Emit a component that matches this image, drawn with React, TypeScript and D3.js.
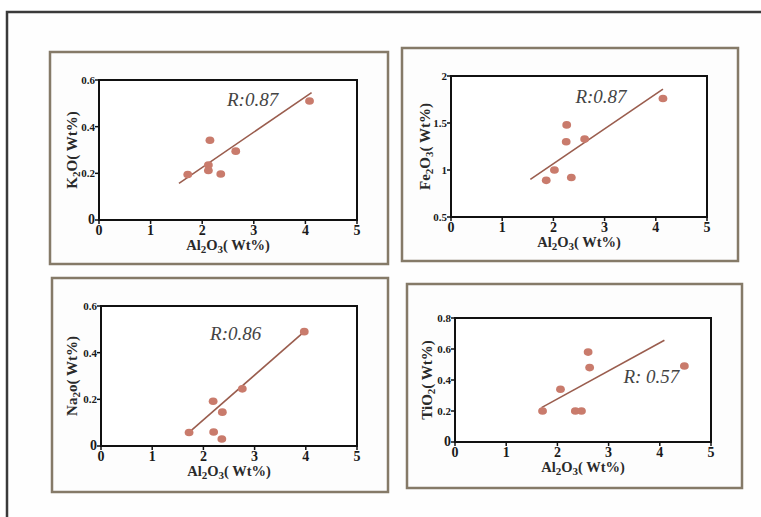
import React from "react";
import * as d3 from "d3";

// ---- data ----
const k2oX = [1.72, 2.12, 2.12, 2.15, 2.36, 2.65, 4.08];
const k2oY = [0.195, 0.236, 0.212, 0.342, 0.197, 0.295, 0.51];
const k2oFit = [[1.55, 0.157], [4.12, 0.546]];

const fe2o3X = [1.86, 2.02, 2.35, 2.25, 2.26, 2.61, 4.14];
const fe2o3Y = [0.89, 1.0, 0.92, 1.3, 1.48, 1.33, 1.76];
const fe2o3Fit = [[1.55, 0.9], [4.14, 1.86]];

const na2oX = [1.72, 2.2, 2.36, 2.37, 2.19, 2.76, 3.97];
const na2oY = [0.058, 0.06, 0.03, 0.145, 0.192, 0.245, 0.49];
const na2oFit = [[1.72, 0.058], [3.97, 0.49]];

const tio2X = [1.71, 2.06, 2.35, 2.47, 2.6, 2.63, 4.48];
const tio2Y = [0.2, 0.34, 0.2, 0.2, 0.58, 0.48, 0.49];
const tio2Fit = [[1.69, 0.222], [4.09, 0.656]];

const xTicks = [0, 1, 2, 3, 4, 5];
const yTicksA = [0, 0.2, 0.4, 0.6];
const yTicksB = [0.5, 1, 1.5, 2];
const yTicksC = [0, 0.2, 0.4, 0.6, 0.8];

const rLabels = ["R:0.87", "R:0.87", "R:0.86", "R: 0.57"];

type PanelCfg = {
  box: [number, number, number, number];
  plot: [number, number, number, number]; // x0, x1, yTop, yBottom
  yDomain: [number, number];
  yTicks: number[];
  xs: number[];
  ys: number[];
  fit: number[][];
  yLabel: React.ReactNode;
  r: string;
  rPos: [number, number];
  yLabelX: number;
};

const panels: PanelCfg[] = [
  {
    box: [50, 52, 388, 264],
    plot: [99, 357, 80, 220],
    yDomain: [0, 0.6],
    yTicks: yTicksA,
    xs: k2oX,
    ys: k2oY,
    fit: k2oFit,
    yLabel: (
      <>
        K<tspan dy={3} fontSize={11}>2</tspan>
        <tspan dy={-3}>O( Wt%)</tspan>
      </>
    ),
    r: rLabels[0],
    rPos: [2.48, 0.49],
    yLabelX: 77,
  },
  {
    box: [402, 48, 738, 261],
    plot: [451, 707, 76, 217],
    yDomain: [0.5, 2],
    yTicks: yTicksB,
    xs: fe2o3X,
    ys: fe2o3Y,
    fit: fe2o3Fit,
    yLabel: (
      <>
        Fe<tspan dy={3} fontSize={11}>2</tspan>
        <tspan dy={-3}>O</tspan>
        <tspan dy={3} fontSize={11}>3</tspan>
        <tspan dy={-3}>( Wt%)</tspan>
      </>
    ),
    r: rLabels[1],
    rPos: [2.43, 1.71],
    yLabelX: 430,
  },
  {
    box: [52, 278, 388, 492],
    plot: [101, 357, 306, 446],
    yDomain: [0, 0.6],
    yTicks: yTicksA,
    xs: na2oX,
    ys: na2oY,
    fit: na2oFit,
    yLabel: (
      <>
        Na<tspan dy={3} fontSize={11}>2</tspan>
        <tspan dy={-3}>o( Wt%)</tspan>
      </>
    ),
    r: rLabels[2],
    rPos: [2.13, 0.454],
    yLabelX: 77,
  },
  {
    box: [407, 284, 742, 488],
    plot: [455, 711, 318, 442],
    yDomain: [0, 0.8],
    yTicks: yTicksC,
    xs: tio2X,
    ys: tio2Y,
    fit: tio2Fit,
    yLabel: (
      <>
        TiO<tspan dy={3} fontSize={11}>2</tspan>
        <tspan dy={-3}>( Wt%)</tspan>
      </>
    ),
    r: rLabels[3],
    rPos: [3.29, 0.379],
    yLabelX: 432,
  },
];

const SERIF = "'Liberation Serif', 'Times New Roman', serif";

function Panel({ p }: { p: PanelCfg }) {
  const [x0, x1, yT, yB] = p.plot;
  const x = d3.scaleLinear().domain([0, 5]).range([x0, x1]);
  const y = d3.scaleLinear().domain(p.yDomain).range([yB, yT]);
  const line = d3
    .line<number[]>()
    .x((d) => x(d[0]))
    .y((d) => y(d[1]));
  const [bx0, by0, bx1, by1] = p.box;
  const fmt = (v: number) => (v === 0 ? "0" : String(v));
  return (
    <g>
      <rect
        x={bx0}
        y={by0}
        width={bx1 - bx0}
        height={by1 - by0}
        fill="#fdfdfd"
        stroke="#857a68"
        strokeWidth={2.5}
      />
      <rect x={x0} y={yT} width={x1 - x0} height={yB - yT} fill="#fff" stroke="#111" strokeWidth={2} />
      {/* fit line */}
      <path d={line(p.fit) || ""} fill="none" stroke="#9a5d4e" strokeWidth={1.6} />
      {/* points */}
      {p.xs.map((v, i) => (
        <ellipse key={i} cx={x(v)} cy={y(p.ys[i])} rx={4.4} ry={3.8} fill="#c97b6c" />
      ))}
      {/* x ticks */}
      {xTicks.map((t) => (
        <g key={"x" + t}>
          <line x1={x(t)} x2={x(t)} y1={yB} y2={yB + 4} stroke="#111" strokeWidth={1.5} />
          <text
            x={x(t)}
            y={yB + 15}
            textAnchor="middle"
            fontFamily={SERIF}
            fontWeight="bold"
            fontSize={14}
            fill="#1a1a1a"
          >
            {t}
          </text>
        </g>
      ))}
      {/* y ticks */}
      {p.yTicks.map((t) => (
        <g key={"y" + t}>
          <line x1={x0 - 4} x2={x0} y1={y(t)} y2={y(t)} stroke="#111" strokeWidth={1.5} />
          <text
            x={x0 - 4}
            y={y(t) + 4}
            textAnchor="end"
            fontFamily={SERIF}
            fontWeight="bold"
            fontSize={t === 0 ? 14 : 11}
            fill="#1a1a1a"
          >
            {fmt(t)}
          </text>
        </g>
      ))}
      {/* x label */}
      <text
        x={(x0 + x1) / 2}
        y={yB + 30}
        textAnchor="middle"
        fontFamily={SERIF}
        fontWeight="bold"
        fontSize={14.5}
        fill="#2a2a2a"
      >
        Al<tspan dy={3} fontSize={11}>2</tspan>
        <tspan dy={-3}>O</tspan>
        <tspan dy={3} fontSize={11}>3</tspan>
        <tspan dy={-3}>( Wt%)</tspan>
      </text>
      {/* y label */}
      <text
        transform={`translate(${p.yLabelX},${(yT + yB) / 2}) rotate(-90)`}
        textAnchor="middle"
        fontFamily={SERIF}
        fontWeight="bold"
        fontSize={15}
        fill="#2a2a2a"
      >
        {p.yLabel}
      </text>
      {/* R label */}
      <text
        x={x(p.rPos[0])}
        y={y(p.rPos[1])}
        fontFamily={SERIF}
        fontStyle="italic"
        fontSize={19}
        fill="#444"
      >
        {p.r}
      </text>
    </g>
  );
}

export default function App() {
  return (
    <svg
      width={761}
      height={517}
      style={{ position: "absolute", left: 0, top: 0, background: "#fff" }}
    >
      <rect x={0} y={0} width={761} height={517} fill="#fff" />
      <rect x={7} y={12} width={800} height={600} fill="#fefefe" stroke="#3a3a3a" strokeWidth={2.5} />
      {panels.map((p, i) => (
        <Panel key={i} p={p} />
      ))}
    </svg>
  );
}
